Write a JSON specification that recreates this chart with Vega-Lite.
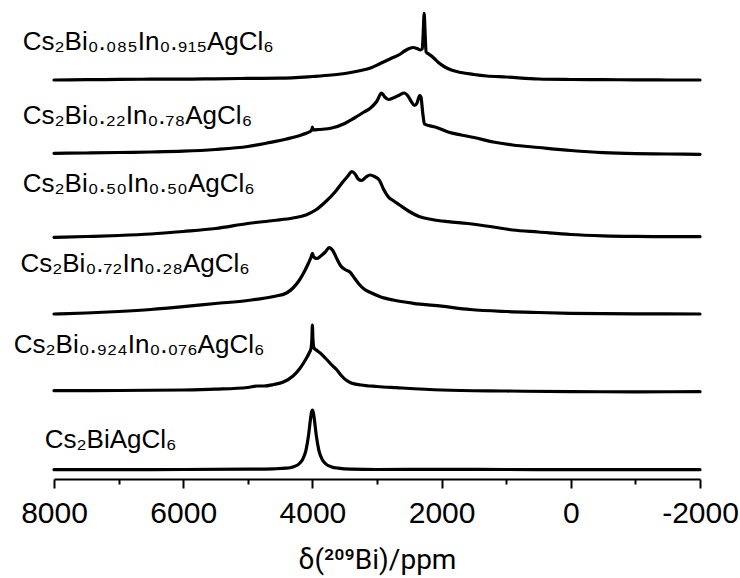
{
  "$schema": "https://vega.github.io/schema/vega-lite/v6.json",
  "autosize": {"type": "none"},
  "width": 646,
  "height": 470,
  "padding": {"left": 54, "top": 9, "right": 40, "bottom": 99},
  "background": "white",
  "config": {"view": {"stroke": null}},
  "datasets": {
    "spectra": [
      {"sample": "s1", "ppm": 8000, "v": 399}, {"sample": "s1", "ppm": 7500, "v": 399.3}, {"sample": "s1", "ppm": 7000, "v": 399.6}, {"sample": "s1", "ppm": 6500, "v": 399.8}, {"sample": "s1", "ppm": 6000, "v": 399.8}, {"sample": "s1", "ppm": 5500, "v": 400.2}, {"sample": "s1", "ppm": 5000, "v": 400.6}, {"sample": "s1", "ppm": 4500, "v": 400.8}, {"sample": "s1", "ppm": 4000, "v": 402.5}, {"sample": "s1", "ppm": 3700, "v": 404}, {"sample": "s1", "ppm": 3450, "v": 406}, {"sample": "s1", "ppm": 3250, "v": 408.5}, {"sample": "s1", "ppm": 3100, "v": 411}, {"sample": "s1", "ppm": 2950, "v": 415.5}, {"sample": "s1", "ppm": 2800, "v": 420}, {"sample": "s1", "ppm": 2650, "v": 424.5}, {"sample": "s1", "ppm": 2560, "v": 428.5}, {"sample": "s1", "ppm": 2500, "v": 430.5}, {"sample": "s1", "ppm": 2440, "v": 431.5}, {"sample": "s1", "ppm": 2380, "v": 430.5}, {"sample": "s1", "ppm": 2330, "v": 429}, {"sample": "s1", "ppm": 2300, "v": 430}, {"sample": "s1", "ppm": 2285, "v": 445}, {"sample": "s1", "ppm": 2270, "v": 465.7}, {"sample": "s1", "ppm": 2255, "v": 445}, {"sample": "s1", "ppm": 2240, "v": 427}, {"sample": "s1", "ppm": 2200, "v": 425}, {"sample": "s1", "ppm": 2130, "v": 421.5}, {"sample": "s1", "ppm": 2050, "v": 416.5}, {"sample": "s1", "ppm": 1950, "v": 412}, {"sample": "s1", "ppm": 1850, "v": 409}, {"sample": "s1", "ppm": 1700, "v": 406.5}, {"sample": "s1", "ppm": 1500, "v": 404.5}, {"sample": "s1", "ppm": 1300, "v": 403}, {"sample": "s1", "ppm": 1000, "v": 402}, {"sample": "s1", "ppm": 500, "v": 400}, {"sample": "s1", "ppm": 0, "v": 399.5}, {"sample": "s1", "ppm": -500, "v": 399.3}, {"sample": "s1", "ppm": -1000, "v": 399.2}, {"sample": "s1", "ppm": -1500, "v": 399}, {"sample": "s1", "ppm": -2000, "v": 399},

      {"sample": "s2", "ppm": 8000, "v": 325.7}, {"sample": "s2", "ppm": 7500, "v": 326}, {"sample": "s2", "ppm": 7000, "v": 326.5}, {"sample": "s2", "ppm": 6500, "v": 327}, {"sample": "s2", "ppm": 6000, "v": 327.8}, {"sample": "s2", "ppm": 5500, "v": 329.5}, {"sample": "s2", "ppm": 5000, "v": 332.5}, {"sample": "s2", "ppm": 4700, "v": 336}, {"sample": "s2", "ppm": 4400, "v": 340}, {"sample": "s2", "ppm": 4150, "v": 344.5}, {"sample": "s2", "ppm": 4050, "v": 347}, {"sample": "s2", "ppm": 4010, "v": 349}, {"sample": "s2", "ppm": 4000, "v": 352}, {"sample": "s2", "ppm": 3990, "v": 349}, {"sample": "s2", "ppm": 3900, "v": 349.5}, {"sample": "s2", "ppm": 3700, "v": 351}, {"sample": "s2", "ppm": 3500, "v": 355.5}, {"sample": "s2", "ppm": 3350, "v": 361}, {"sample": "s2", "ppm": 3200, "v": 367}, {"sample": "s2", "ppm": 3100, "v": 371}, {"sample": "s2", "ppm": 3000, "v": 378}, {"sample": "s2", "ppm": 2930, "v": 386}, {"sample": "s2", "ppm": 2880, "v": 382}, {"sample": "s2", "ppm": 2820, "v": 379.5}, {"sample": "s2", "ppm": 2750, "v": 381}, {"sample": "s2", "ppm": 2650, "v": 384}, {"sample": "s2", "ppm": 2580, "v": 386}, {"sample": "s2", "ppm": 2520, "v": 383}, {"sample": "s2", "ppm": 2460, "v": 376.5}, {"sample": "s2", "ppm": 2420, "v": 373.5}, {"sample": "s2", "ppm": 2380, "v": 376}, {"sample": "s2", "ppm": 2340, "v": 383.5}, {"sample": "s2", "ppm": 2320, "v": 382}, {"sample": "s2", "ppm": 2290, "v": 365}, {"sample": "s2", "ppm": 2265, "v": 355}, {"sample": "s2", "ppm": 2200, "v": 353.5}, {"sample": "s2", "ppm": 2100, "v": 352}, {"sample": "s2", "ppm": 1900, "v": 347}, {"sample": "s2", "ppm": 1700, "v": 344}, {"sample": "s2", "ppm": 1500, "v": 341.5}, {"sample": "s2", "ppm": 1200, "v": 337}, {"sample": "s2", "ppm": 900, "v": 334}, {"sample": "s2", "ppm": 500, "v": 331.5}, {"sample": "s2", "ppm": 0, "v": 328.5}, {"sample": "s2", "ppm": -500, "v": 326.3}, {"sample": "s2", "ppm": -1000, "v": 325.3}, {"sample": "s2", "ppm": -1500, "v": 325}, {"sample": "s2", "ppm": -2000, "v": 324.7},

      {"sample": "s3", "ppm": 8000, "v": 241.7}, {"sample": "s3", "ppm": 7500, "v": 242.5}, {"sample": "s3", "ppm": 7000, "v": 243.5}, {"sample": "s3", "ppm": 6500, "v": 245}, {"sample": "s3", "ppm": 6000, "v": 247.5}, {"sample": "s3", "ppm": 5500, "v": 250.5}, {"sample": "s3", "ppm": 5000, "v": 255.5}, {"sample": "s3", "ppm": 4600, "v": 258.5}, {"sample": "s3", "ppm": 4300, "v": 261}, {"sample": "s3", "ppm": 4100, "v": 264}, {"sample": "s3", "ppm": 3950, "v": 269}, {"sample": "s3", "ppm": 3800, "v": 277}, {"sample": "s3", "ppm": 3650, "v": 287}, {"sample": "s3", "ppm": 3530, "v": 297}, {"sample": "s3", "ppm": 3450, "v": 303}, {"sample": "s3", "ppm": 3390, "v": 307.5}, {"sample": "s3", "ppm": 3340, "v": 305}, {"sample": "s3", "ppm": 3290, "v": 300}, {"sample": "s3", "ppm": 3240, "v": 298.5}, {"sample": "s3", "ppm": 3170, "v": 302}, {"sample": "s3", "ppm": 3110, "v": 304}, {"sample": "s3", "ppm": 3040, "v": 302.5}, {"sample": "s3", "ppm": 2960, "v": 298.5}, {"sample": "s3", "ppm": 2900, "v": 290}, {"sample": "s3", "ppm": 2830, "v": 282.5}, {"sample": "s3", "ppm": 2740, "v": 278}, {"sample": "s3", "ppm": 2650, "v": 274}, {"sample": "s3", "ppm": 2500, "v": 267.5}, {"sample": "s3", "ppm": 2350, "v": 262.5}, {"sample": "s3", "ppm": 2150, "v": 259.5}, {"sample": "s3", "ppm": 1900, "v": 257.3}, {"sample": "s3", "ppm": 1600, "v": 255.5}, {"sample": "s3", "ppm": 1200, "v": 252}, {"sample": "s3", "ppm": 900, "v": 249}, {"sample": "s3", "ppm": 500, "v": 247}, {"sample": "s3", "ppm": 0, "v": 244.5}, {"sample": "s3", "ppm": -500, "v": 243.2}, {"sample": "s3", "ppm": -1000, "v": 242.6}, {"sample": "s3", "ppm": -1500, "v": 242.4}, {"sample": "s3", "ppm": -2000, "v": 242.3},

      {"sample": "s4", "ppm": 8000, "v": 165}, {"sample": "s4", "ppm": 7500, "v": 166}, {"sample": "s4", "ppm": 7000, "v": 167.5}, {"sample": "s4", "ppm": 6500, "v": 169.5}, {"sample": "s4", "ppm": 6000, "v": 172.3}, {"sample": "s4", "ppm": 5500, "v": 175.5}, {"sample": "s4", "ppm": 5000, "v": 178.5}, {"sample": "s4", "ppm": 4600, "v": 182.5}, {"sample": "s4", "ppm": 4400, "v": 186}, {"sample": "s4", "ppm": 4300, "v": 191}, {"sample": "s4", "ppm": 4200, "v": 199}, {"sample": "s4", "ppm": 4120, "v": 208}, {"sample": "s4", "ppm": 4060, "v": 216}, {"sample": "s4", "ppm": 4020, "v": 222}, {"sample": "s4", "ppm": 4000, "v": 225.7}, {"sample": "s4", "ppm": 3980, "v": 222}, {"sample": "s4", "ppm": 3930, "v": 220.5}, {"sample": "s4", "ppm": 3880, "v": 222.5}, {"sample": "s4", "ppm": 3800, "v": 227}, {"sample": "s4", "ppm": 3740, "v": 231.3}, {"sample": "s4", "ppm": 3680, "v": 228}, {"sample": "s4", "ppm": 3620, "v": 220}, {"sample": "s4", "ppm": 3560, "v": 213}, {"sample": "s4", "ppm": 3480, "v": 209}, {"sample": "s4", "ppm": 3420, "v": 207}, {"sample": "s4", "ppm": 3350, "v": 201}, {"sample": "s4", "ppm": 3280, "v": 195}, {"sample": "s4", "ppm": 3200, "v": 190}, {"sample": "s4", "ppm": 3100, "v": 186.5}, {"sample": "s4", "ppm": 2950, "v": 182.3}, {"sample": "s4", "ppm": 2750, "v": 179}, {"sample": "s4", "ppm": 2440, "v": 175.7}, {"sample": "s4", "ppm": 2000, "v": 172.8}, {"sample": "s4", "ppm": 1560, "v": 169.5}, {"sample": "s4", "ppm": 1000, "v": 167.5}, {"sample": "s4", "ppm": 500, "v": 166.5}, {"sample": "s4", "ppm": 0, "v": 165.7}, {"sample": "s4", "ppm": -1000, "v": 165.2}, {"sample": "s4", "ppm": -2000, "v": 165},

      {"sample": "s5", "ppm": 8000, "v": 88.3}, {"sample": "s5", "ppm": 7000, "v": 88.5}, {"sample": "s5", "ppm": 6000, "v": 89}, {"sample": "s5", "ppm": 5500, "v": 89.8}, {"sample": "s5", "ppm": 5000, "v": 91.5}, {"sample": "s5", "ppm": 4850, "v": 93}, {"sample": "s5", "ppm": 4750, "v": 93}, {"sample": "s5", "ppm": 4600, "v": 94.5}, {"sample": "s5", "ppm": 4450, "v": 97}, {"sample": "s5", "ppm": 4300, "v": 103}, {"sample": "s5", "ppm": 4200, "v": 110}, {"sample": "s5", "ppm": 4100, "v": 120}, {"sample": "s5", "ppm": 4050, "v": 126}, {"sample": "s5", "ppm": 4020, "v": 131}, {"sample": "s5", "ppm": 4008, "v": 140}, {"sample": "s5", "ppm": 4000, "v": 154}, {"sample": "s5", "ppm": 3992, "v": 140}, {"sample": "s5", "ppm": 3975, "v": 131}, {"sample": "s5", "ppm": 3940, "v": 129}, {"sample": "s5", "ppm": 3880, "v": 126}, {"sample": "s5", "ppm": 3800, "v": 121}, {"sample": "s5", "ppm": 3700, "v": 114}, {"sample": "s5", "ppm": 3620, "v": 109}, {"sample": "s5", "ppm": 3560, "v": 104}, {"sample": "s5", "ppm": 3480, "v": 99}, {"sample": "s5", "ppm": 3400, "v": 96}, {"sample": "s5", "ppm": 3250, "v": 94}, {"sample": "s5", "ppm": 3000, "v": 92.5}, {"sample": "s5", "ppm": 2700, "v": 91.3}, {"sample": "s5", "ppm": 2000, "v": 89}, {"sample": "s5", "ppm": 1000, "v": 88}, {"sample": "s5", "ppm": 0, "v": 87.3}, {"sample": "s5", "ppm": -1000, "v": 87.2}, {"sample": "s5", "ppm": -2000, "v": 87.3},

      {"sample": "s6", "ppm": 8000, "v": 9.3}, {"sample": "s6", "ppm": 7000, "v": 9.4}, {"sample": "s6", "ppm": 6000, "v": 9.5}, {"sample": "s6", "ppm": 5000, "v": 9.8}, {"sample": "s6", "ppm": 4600, "v": 10.2}, {"sample": "s6", "ppm": 4400, "v": 10.8}, {"sample": "s6", "ppm": 4300, "v": 12.1}, {"sample": "s6", "ppm": 4200, "v": 15.5}, {"sample": "s6", "ppm": 4150, "v": 19.7}, {"sample": "s6", "ppm": 4100, "v": 28.7}, {"sample": "s6", "ppm": 4060, "v": 43.6}, {"sample": "s6", "ppm": 4030, "v": 59.7}, {"sample": "s6", "ppm": 4015, "v": 66.4}, {"sample": "s6", "ppm": 4000, "v": 69}, {"sample": "s6", "ppm": 3985, "v": 66.4}, {"sample": "s6", "ppm": 3970, "v": 59.7}, {"sample": "s6", "ppm": 3940, "v": 43.6}, {"sample": "s6", "ppm": 3900, "v": 28.7}, {"sample": "s6", "ppm": 3850, "v": 19.7}, {"sample": "s6", "ppm": 3800, "v": 15.5}, {"sample": "s6", "ppm": 3700, "v": 12.1}, {"sample": "s6", "ppm": 3600, "v": 10.8}, {"sample": "s6", "ppm": 3400, "v": 9.8}, {"sample": "s6", "ppm": 3000, "v": 9.5}, {"sample": "s6", "ppm": 2000, "v": 9.7}, {"sample": "s6", "ppm": 1000, "v": 9.5}, {"sample": "s6", "ppm": 0, "v": 9.3}, {"sample": "s6", "ppm": -2000, "v": 9.3}
    ],
    "labels": [
      {"sample": "s1", "label": "Cs₂Bi₀.₀₈₅In₀.₉₁₅AgCl₆", "ppm": 8485, "v": 429},
      {"sample": "s2", "label": "Cs₂Bi₀.₂₂In₀.₇₈AgCl₆", "ppm": 8485, "v": 355},
      {"sample": "s3", "label": "Cs₂Bi₀.₅₀In₀.₅₀AgCl₆", "ppm": 8485, "v": 287.3},
      {"sample": "s4", "label": "Cs₂Bi₀.₇₂In₀.₂₈AgCl₆", "ppm": 8520, "v": 207.3},
      {"sample": "s5", "label": "Cs₂Bi₀.₉₂₄In₀.₀₇₆AgCl₆", "ppm": 8624, "v": 125.7},
      {"sample": "s6", "label": "Cs₂BiAgCl₆", "ppm": 8144, "v": 30.7}
    ]
  },
  "layer": [
    {
      "data": {"name": "spectra"},
      "mark": {"type": "line", "color": "black", "interpolate": "monotone", "strokeJoin": "round", "strokeCap": "round"},
      "encoding": {
        "x": {
          "field": "ppm", "type": "quantitative",
          "scale": {"domain": [8000, -2000], "nice": false, "zero": false},
          "axis": {
            "values": [8000, 7000, 6000, 5000, 4000, 3000, 2000, 1000, 0, -1000, -2000],
            "labelExpr": "datum.value % 2000 === 0 ? '' + datum.value : ''",
            "grid": false,
            "domainColor": "black", "domainWidth": 2,
            "tickColor": "black", "tickWidth": 2,
            "tickSize": {"condition": {"test": "datum.value % 2000 === 0", "value": 9}, "value": 5},
            "labelFont": "Liberation Sans", "labelFontSize": 30, "labelColor": "black",
            "labelPadding": 10, "labelFlush": false, "labelOverlap": false,
            "title": "δ(²⁰⁹Bi)/ppm",
            "titleFont": "Roboto", "titleFontSize": 28, "titleFontWeight": "normal", "titleColor": "black",
            "titleBaseline": "alphabetic", "titleY": 89
          }
        },
        "y": {"field": "v", "type": "quantitative", "scale": {"domain": [0, 470], "nice": false, "zero": false}, "axis": null},
        "detail": {"field": "sample"},
        "order": {"field": "ppm", "sort": "descending"},
        "strokeWidth": {
          "field": "sample", "type": "nominal",
          "scale": {"domain": ["s1", "s2", "s3", "s4", "s5", "s6"], "range": [3.2, 3.2, 2.6, 2.3, 2.3, 2.3]},
          "legend": null
        }
      }
    },
    {
      "data": {"name": "labels"},
      "mark": {"type": "text", "align": "left", "baseline": "alphabetic", "font": "Liberation Sans", "fontSize": 26, "color": "black"},
      "encoding": {
        "x": {"field": "ppm", "type": "quantitative"},
        "y": {"field": "v", "type": "quantitative"},
        "text": {"field": "label"}
      }
    }
  ]
}
